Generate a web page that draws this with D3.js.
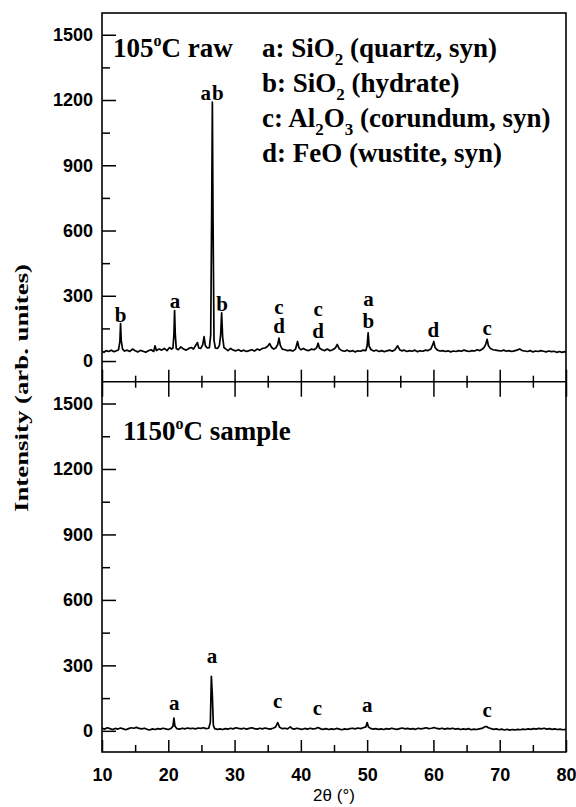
<!DOCTYPE html>
<html>
<head>
<meta charset="utf-8">
<script src="https://cdn.jsdelivr.net/npm/d3@7"></script>
<style>
  body { margin: 0; background: #fff; }
  .serif { font-family: "Liberation Serif", "Times New Roman", serif; font-weight: bold; }
  .sans { font-family: "Liberation Sans", Arial, sans-serif; }
</style>
</head>
<body>
<svg id="chart" width="576" height="807"></svg>
<script>
// 105 C raw pattern: [2theta, intensity]
const rawPattern = [
  [10.0,45],[10.3,40],[10.6,48],[11.0,44],[11.4,50],[11.8,43],[12.2,47],[12.5,52],[12.7,90],[12.8,172],[12.9,95],
  [13.1,55],[13.4,46],[13.8,50],[14.2,44],[14.6,55],[15.0,47],[15.4,42],[15.8,49],[16.2,45],[16.6,40],[17.0,47],
  [17.4,52],[17.8,44],[18.0,70],[18.2,48],[18.6,55],[19.0,50],[19.4,58],[19.8,48],[20.2,62],[20.5,55],[20.7,60],
  [20.85,120],[20.95,232],[21.05,125],[21.2,58],[21.5,52],[21.9,65],[22.3,55],[22.7,50],[23.1,58],[23.5,62],
  [23.8,55],[24.1,70],[24.4,85],[24.6,60],[24.9,58],[25.2,75],[25.4,112],[25.6,70],[25.9,60],[26.2,62],[26.4,120],
  [26.55,700],[26.65,1190],[26.75,650],[26.9,95],[27.1,60],[27.4,58],[27.7,70],[27.9,120],[28.05,222],[28.2,110],
  [28.4,62],[28.7,55],[29.0,48],[29.4,58],[29.8,50],[30.2,47],[30.6,52],[31.0,45],[31.4,50],[31.8,44],[32.2,48],
  [32.6,52],[33.0,46],[33.4,55],[33.8,50],[34.2,58],[34.6,60],[35.0,68],[35.3,80],[35.6,62],[35.9,55],[36.2,60],
  [36.5,75],[36.7,105],[36.9,72],[37.2,55],[37.6,52],[38.0,48],[38.4,50],[38.8,46],[39.2,55],[39.5,90],[39.7,62],
  [40.0,52],[40.4,58],[40.8,50],[41.2,48],[41.6,55],[42.0,52],[42.4,62],[42.6,82],[42.8,60],[43.2,52],[43.6,48],
  [44.0,55],[44.4,47],[44.8,52],[45.2,60],[45.5,76],[45.8,56],[46.2,48],[46.6,45],[47.0,50],[47.4,44],[47.8,48],
  [48.2,42],[48.6,47],[49.0,45],[49.4,50],[49.8,48],[50.0,70],[50.15,130],[50.3,68],[50.6,52],[51.0,46],[51.4,50],
  [51.8,44],[52.2,48],[52.6,43],[53.0,47],[53.4,50],[53.8,45],[54.2,52],[54.6,70],[54.9,52],[55.2,47],[55.6,50],
  [56.0,44],[56.4,48],[56.8,45],[57.2,50],[57.6,43],[58.0,47],[58.4,45],[58.8,50],[59.2,48],[59.6,55],[59.9,75],
  [60.05,90],[60.25,62],[60.6,50],[61.0,46],[61.4,48],[61.8,44],[62.2,47],[62.6,42],[63.0,46],[63.4,44],[63.8,48],
  [64.2,45],[64.6,50],[65.0,47],[65.4,44],[65.8,48],[66.2,46],[66.6,52],[67.0,48],[67.4,55],[67.7,65],[67.9,78],
  [68.1,100],[68.3,70],[68.6,58],[69.0,52],[69.4,50],[69.8,48],[70.2,46],[70.6,50],[71.0,45],[71.4,48],[71.8,44],
  [72.2,47],[72.6,50],[73.0,55],[73.4,48],[73.8,46],[74.2,44],[74.6,48],[75.0,42],[75.4,46],[75.8,44],[76.2,48],
  [76.6,45],[77.0,42],[77.4,46],[77.8,43],[78.2,45],[78.6,40],[79.0,44],[79.4,40],[79.8,43],[80.0,38]
];

// 1150 C sample pattern
const sinteredPattern = [
  [10.0,12],[10.4,8],[10.8,14],[11.2,10],[11.6,6],[12.0,11],[12.4,8],[12.8,13],[13.2,9],[13.6,5],[14.0,10],
  [14.4,14],[14.8,12],[15.2,16],[15.6,11],[16.0,9],[16.4,12],[16.8,7],[17.2,4],[17.6,9],[18.0,6],[18.4,10],
  [18.8,8],[19.2,12],[19.6,9],[20.0,6],[20.4,11],[20.7,20],[20.85,58],[21.0,22],[21.3,10],[21.7,8],[22.1,12],
  [22.5,9],[22.9,13],[23.3,10],[23.7,12],[24.1,9],[24.5,13],[24.9,11],[25.3,14],[25.7,10],[26.1,12],[26.35,40],
  [26.5,250],[26.65,160],[26.8,25],[27.0,10],[27.4,7],[27.8,9],[28.2,6],[28.6,10],[29.0,8],[29.4,12],[29.8,9],
  [30.2,14],[30.6,11],[31.0,9],[31.4,12],[31.8,8],[32.2,11],[32.6,14],[33.0,10],[33.4,8],[33.8,12],[34.2,9],
  [34.6,13],[35.0,10],[35.4,8],[35.8,12],[36.2,18],[36.5,38],[36.8,16],[37.2,10],[37.6,12],[38.0,9],[38.4,18],
  [38.7,10],[39.0,8],[39.4,12],[39.8,9],[40.2,7],[40.6,11],[41.0,8],[41.4,12],[41.8,9],[42.2,10],[42.6,15],
  [43.0,9],[43.4,7],[43.8,10],[44.2,6],[44.6,9],[45.0,7],[45.4,11],[45.8,8],[46.2,5],[46.6,9],[47.0,7],[47.4,10],
  [47.8,12],[48.2,9],[48.6,13],[49.0,10],[49.4,14],[49.8,18],[50.0,38],[50.2,18],[50.5,11],[50.9,8],[51.3,10],
  [51.7,7],[52.1,9],[52.5,6],[52.9,10],[53.3,8],[53.7,12],[54.1,9],[54.5,7],[54.9,10],[55.3,13],[55.7,9],
  [56.1,11],[56.5,8],[56.9,10],[57.3,7],[57.7,12],[58.1,9],[58.5,11],[58.9,14],[59.3,10],[59.7,12],[60.1,15],
  [60.5,11],[60.9,9],[61.3,12],[61.7,8],[62.1,11],[62.5,9],[62.9,12],[63.3,8],[63.7,10],[64.1,6],[64.5,9],
  [64.9,7],[65.3,10],[65.7,5],[66.1,8],[66.5,6],[66.9,9],[67.3,11],[67.7,18],[68.0,20],[68.3,14],[68.7,10],
  [69.1,7],[69.5,9],[69.9,5],[70.3,8],[70.7,4],[71.1,7],[71.5,3],[71.9,6],[72.3,4],[72.7,7],[73.1,5],[73.5,8],
  [73.9,6],[74.3,9],[74.7,7],[75.1,10],[75.5,8],[75.9,11],[76.3,9],[76.7,12],[77.1,8],[77.5,10],[77.9,7],
  [78.3,9],[78.7,6],[79.1,8],[79.5,5],[80.0,7]
];

// peak labels: [letter, 2theta, intensity of the text baseline]
const rawPeakLabels = [
  ["b",12.8,180],["a",21.0,242],["ab",26.7,1200],["b",28.1,228],
  ["c",36.7,216],["d",36.7,127],["c",42.6,208],["d",42.6,104],
  ["a",50.2,254],["b",50.2,150],["d",60.0,112],["c",68.1,120]
];
const sinteredPeakLabels = [
  ["a",20.9,95],["a",26.6,311],["c",36.5,104],["c",42.5,72],["a",50.0,86],["c",68.1,63]
];

// phase legend: pieces of [text, "n" normal | "sub" subscript]
const phaseLegend = [
  [["a: SiO","n"],["2","sub"],[" (quartz, syn)","n"]],
  [["b: SiO","n"],["2","sub"],[" (hydrate)","n"]],
  [["c: Al","n"],["2","sub"],["O","n"],["3","sub"],[" (corundum, syn)","n"]],
  [["d: FeO (wustite, syn)","n"]]
];

const xMajor = [10, 20, 30, 40, 50, 60, 70, 80];
const xMinor = [15, 25, 35, 45, 55, 65, 75];
const yMajor = [0, 300, 600, 900, 1200, 1500];
const yMinor = [150, 450, 750, 1050, 1350];

const svg = d3.select("#chart");
const plotLeft = 102, plotRight = 566, plotTop = 13, plotMid = 381.7, plotBottom = 752;

const x = d3.scaleLinear().domain([10, 80]).range([plotLeft, plotRight]);
const yTop = d3.scaleLinear().domain([-95, 1600]).range([plotMid, plotTop]);
const yBot = d3.scaleLinear().domain([-97, 1600]).range([plotBottom, plotMid]);

function yAxes(y) {
  const g = svg.append("g");
  g.append("g").attr("transform", `translate(${plotLeft},0)`)
    .call(d3.axisRight(y).tickValues(yMajor).tickSize(14).tickFormat(""));
  g.append("g").attr("transform", `translate(${plotLeft},0)`)
    .call(d3.axisRight(y).tickValues(yMinor).tickSize(8).tickFormat(""));
  g.append("g").attr("transform", `translate(${plotLeft},0)`)
    .call(d3.axisLeft(y).tickValues(yMajor).tickSize(0).tickPadding(9).tickFormat(d3.format("d")))
    .selectAll("text").attr("class", "sans").style("font-size", "18px").style("font-weight", "bold");
  g.selectAll(".domain").remove();
  g.selectAll("line").attr("stroke", "#000").attr("stroke-width", 1.5);
}
yAxes(yTop);
yAxes(yBot);

// x ticks: top panel bottom edge (up), bottom panel top edge (down), bottom axis (up)
function xTicks(ypos, axisFn, major, minor) {
  const g = svg.append("g").attr("transform", `translate(0,${ypos})`);
  g.append("g").call(axisFn(x).tickValues(xMajor).tickSize(major).tickFormat(""));
  g.append("g").call(axisFn(x).tickValues(xMinor).tickSize(minor).tickFormat(""));
  g.selectAll(".domain").remove();
  g.selectAll("line").attr("stroke", "#000").attr("stroke-width", 1.5);
}
xTicks(plotMid, d3.axisTop, 12, 6);
xTicks(plotMid, d3.axisBottom, 15, 6);
xTicks(plotBottom, d3.axisTop, 12, 7);

const xLab = svg.append("g").attr("transform", `translate(0,${plotBottom})`)
  .call(d3.axisBottom(x).tickValues(xMajor).tickSize(0).tickPadding(16));
xLab.select(".domain").remove();
xLab.selectAll("text").attr("class", "sans").style("font-size", "18px").style("font-weight", "bold");

// frames
svg.append("rect").attr("x", plotLeft).attr("y", plotTop)
  .attr("width", plotRight - plotLeft).attr("height", plotBottom - plotTop)
  .attr("fill", "none").attr("stroke", "#000").attr("stroke-width", 1.6);
svg.append("line").attr("x1", plotLeft).attr("x2", plotRight).attr("y1", plotMid).attr("y2", plotMid)
  .attr("stroke", "#000").attr("stroke-width", 1.6);

// patterns
const lineTop = d3.line().x(d => x(d[0])).y(d => yTop(d[1]));
const lineBot = d3.line().x(d => x(d[0])).y(d => yBot(d[1]));
svg.append("path").datum(rawPattern).attr("d", lineTop)
  .attr("fill", "none").attr("stroke", "#000").attr("stroke-width", 1.7).attr("stroke-linejoin", "round");
svg.append("path").datum(sinteredPattern).attr("d", lineBot)
  .attr("fill", "none").attr("stroke", "#000").attr("stroke-width", 1.7).attr("stroke-linejoin", "round");

// peak letters
function peakLabels(list, y) {
  svg.append("g").selectAll("text").data(list).enter().append("text")
    .attr("class", "serif")
    .attr("x", d => x(d[1]))
    .attr("y", d => y(d[2]))
    .attr("text-anchor", "middle")
    .style("font-size", "21px")
    .style("letter-spacing", d => d[0].length > 1 ? "1px" : null)
    .text(d => d[0]);
}
peakLabels(rawPeakLabels, yTop);
peakLabels(sinteredPeakLabels, yBot);

// panel titles
function panelTitle(xp, yp, pre, post) {
  const t = svg.append("text").attr("class", "serif").attr("x", xp).attr("y", yp).style("font-size", "27px");
  t.append("tspan").text(pre);
  t.append("tspan").attr("dy", -11).style("font-size", "16px").text("o");
  t.append("tspan").attr("dy", 11).text(post);
}
panelTitle(113, 57, "105", "C raw");
panelTitle(123, 440, "1150", "C sample");

// phase legend
phaseLegend.forEach((line, i) => {
  const t = svg.append("text").attr("class", "serif").attr("x", 262).attr("y", 57 + i * 35)
    .style("font-size", "27px");
  let shifted = false;
  line.forEach(([txt, kind]) => {
    const s = t.append("tspan").text(txt);
    if (kind === "sub") {
      s.attr("dy", 8).style("font-size", "17px");
      shifted = true;
    } else if (shifted) {
      s.attr("dy", -8);
      shifted = false;
    }
  });
});

// axis titles
svg.append("text").attr("class", "serif")
  .attr("transform", `translate(28,388) rotate(-90)`)
  .attr("text-anchor", "middle").style("font-size", "18px")
  .attr("textLength", 248).attr("lengthAdjust", "spacingAndGlyphs")
  .text("Intensity (arb. unites)");
svg.append("text").attr("class", "sans")
  .attr("x", x(45)).attr("y", 801).attr("text-anchor", "middle").style("font-size", "17px")
  .text("2θ (°)");
</script>
</body>
</html>
